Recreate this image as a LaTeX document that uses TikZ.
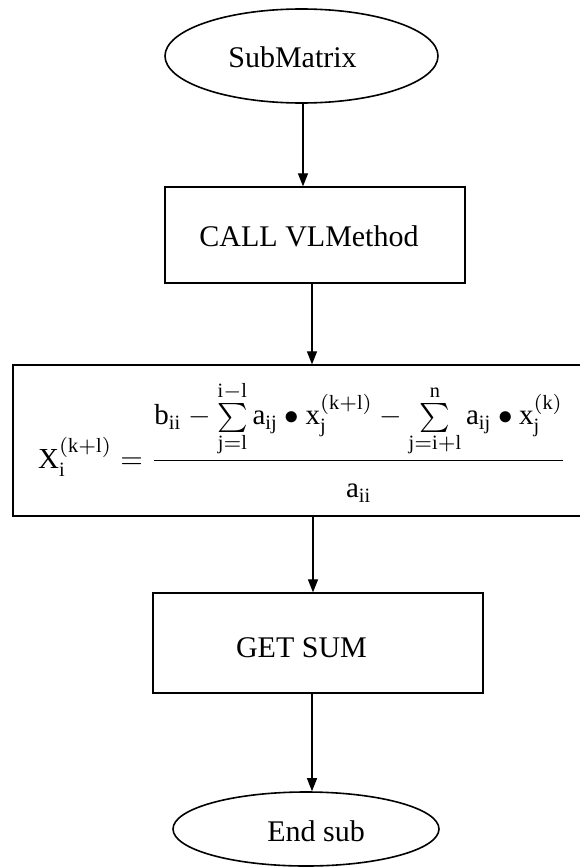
\documentclass[tikz,border=0pt]{standalone}
\usepackage{amsmath}
\usepackage{graphicx}
\usepackage{fontspec}
\setmainfont{Liberation Serif}
\usetikzlibrary{shapes.geometric,arrows.meta}
\begin{document}
\begin{tikzpicture}[x=1pt,y=-1pt,
  every node/.style={font=\fontsize{30}{36}\selectfont},
  term/.style={draw,ellipse,line width=1.6pt,inner sep=0pt},
  proc/.style={draw,rectangle,line width=1.3pt,inner sep=0pt},
  arr/.style={line width=1.2pt,-{Triangle[length=13pt,width=10pt]}}]
\useasboundingbox (0,0) rectangle (580,867);
\clip (0,0) rectangle (580,867);
\node[term,minimum width=273pt,minimum height=94pt,
  label={[name=starttext,xshift=-9pt,yshift=-1pt]center:SubMatrix}] (start) at (301.5,56) {};
\node[proc,minimum width=300pt,minimum height=96pt,
  label={[name=calltext,xshift=-6pt,yshift=-1pt]center:CALL VLMethod}] (call) at (315,235) {};
\node[proc,minimum width=572pt,minimum height=151pt] (calc) at (299,440.5) {};
\node[anchor=base west,inner sep=0pt] (formula) at (38,468)
 {\scalebox{2.9}{\fontsize{10}{12}\selectfont$\fontdimen10\textfont3=0pt
 \mathrm{X}_{\mathrm{i}}^{(\mathrm{k}+\mathrm{l})} = \dfrac{\textstyle\mathrm{b}_{\mathrm{ii}} - \sum\limits_{\mathrm{j}=\mathrm{l}}^{\mathrm{i}-\mathrm{l}} \mathrm{a}_{\mathrm{ij}} \bullet \mathrm{x}_{\mathrm{j}}^{(\mathrm{k}+\mathrm{l})} - \sum\limits_{\mathrm{j}=\mathrm{i}+\mathrm{l}}^{\mathrm{n}} \mathrm{a}_{\mathrm{ij}} \bullet \mathrm{x}_{\mathrm{j}}^{(\mathrm{k})}}{\vrule height 11.4pt width 0pt\mathrm{a}_{\mathrm{ii}}}$}};
\node[proc,minimum width=330pt,minimum height=100pt,
  label={[name=sumtext,xshift=-16.5pt,yshift=-5pt]center:GET SUM}] (sum) at (318,643) {};
\node[term,minimum width=266pt,minimum height=74pt,
  label={[name=endtext,xshift=10pt,yshift=-2pt]center:End sub}] (end) at (306,829) {};
\draw[arr] ([xshift=1.5pt]start.south) -- ([xshift=1.5pt]start.south |- call.north);
\draw[arr] ([xshift=-3pt]call.south) -- ([xshift=-3pt]call.south |- calc.north);
\draw[arr] ([xshift=-5pt]sum.north |- calc.south) -- ([xshift=-5pt]sum.north);
\draw[arr] ([xshift=-6pt]sum.south) -- ([xshift=-6pt]sum.south |- end.north);
\end{tikzpicture}
\end{document}
